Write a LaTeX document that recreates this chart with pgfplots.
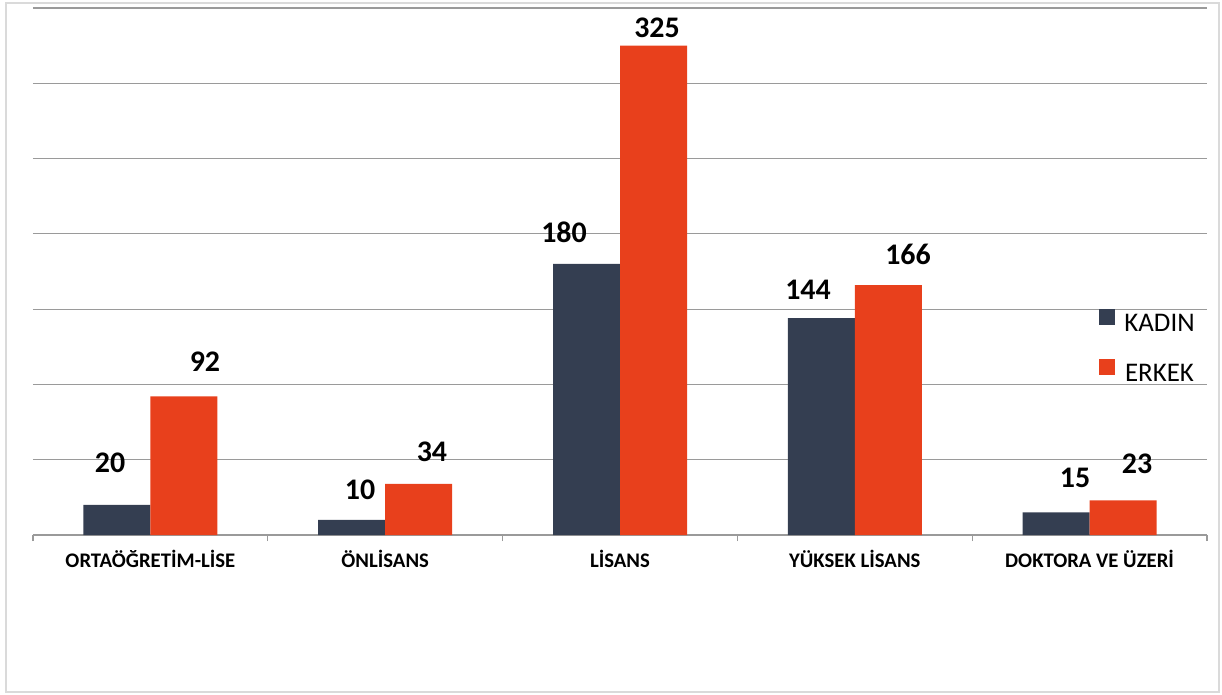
\documentclass[border=0pt]{standalone}
\usepackage{pgfplots}
\pgfplotsset{compat=1.18}
\usepackage{fontspec}
\setmainfont{Carlito}
\definecolor{kadin}{HTML}{343E51}
\definecolor{erkek}{HTML}{E8401C}
\definecolor{gridc}{HTML}{9A9A9A}
\definecolor{framec}{HTML}{DADADA}
\begin{document}
\begin{tikzpicture}
\begin{axis}[
  at={(0,0)}, anchor=south west,
  scale only axis, width=587bp, height=263.5bp,
  xmin=-0.5, xmax=4.5, ymin=0, ymax=350,
  ybar=0pt, bar width=33.5bp,
  axis line style={draw=none},
  ytick={0,50,...,350}, yticklabels={}, ytick style={draw=none},
  ymajorgrids, grid style={gridc, line width=0.6bp},
  xtick={0,1,2,3,4},
  xticklabels={ORTAÖĞRETİM-LİSE, ÖNLİSANS, LİSANS, YÜKSEK LİSANS, DOKTORA VE ÜZERİ},
  x tick label style={font=\bfseries\fontsize{10.4}{12}\selectfont, anchor=base, yshift=-16bp},
  xtick pos=lower, major tick length=0pt,
  extra x ticks={-0.5,0.5,1.5,2.5,3.5,4.5}, extra x tick labels={},
  extra x tick style={major tick length=3bp, tick align=outside, tick style={draw=gridc, line width=0.6bp}},
  legend style={at={(axis description cs:0.908,0.429)}, anchor=north west, draw=none, fill=none,
    inner sep=0pt, font=\fontsize{13.5}{15}\selectfont, row sep=12.1bp,
    /tikz/every odd column/.append style={column sep=4.5bp}, nodes={inner sep=0pt}},
  legend image code/.code={\fill[#1] (0bp,-0.3bp) rectangle (8bp,7.7bp);},
  clip=false,
]
\addplot[fill=kadin, draw=none] coordinates {(0,20) (1,10) (2,180) (3,144) (4,15)};
\addplot[fill=erkek, draw=none] coordinates {(0,92) (1,34) (2,325) (3,166) (4,23)};
\legend{KADIN, ERKEK}
\begin{scope}[every node/.style={font=\bfseries\fontsize{15}{18}\selectfont}]
\node at (axis cs:-0.172,47.8) {20};
\node at (axis cs:0.2325,114.9) {92};
\node at (axis cs:0.893,29.9) {10};
\node at (axis cs:1.199,55.1) {34};
\node at (axis cs:1.7615,201.2) {180};
\node at (axis cs:2.1576,336.7) {325};
\node at (axis cs:2.8007,162.7) {144};
\node at (axis cs:3.2266,186.6) {166};
\node at (axis cs:3.9378,37.9) {15};
\node at (axis cs:4.2019,47.2) {23};
\end{scope}
\end{axis}
\draw[framec, line width=1bp] (-13.5bp,-78.5bp) rectangle (593bp,266bp);
\pgfresetboundingbox
\path (-16.5bp,-80bp) rectangle (594.5bp,267.5bp);
\end{tikzpicture}
\end{document}
